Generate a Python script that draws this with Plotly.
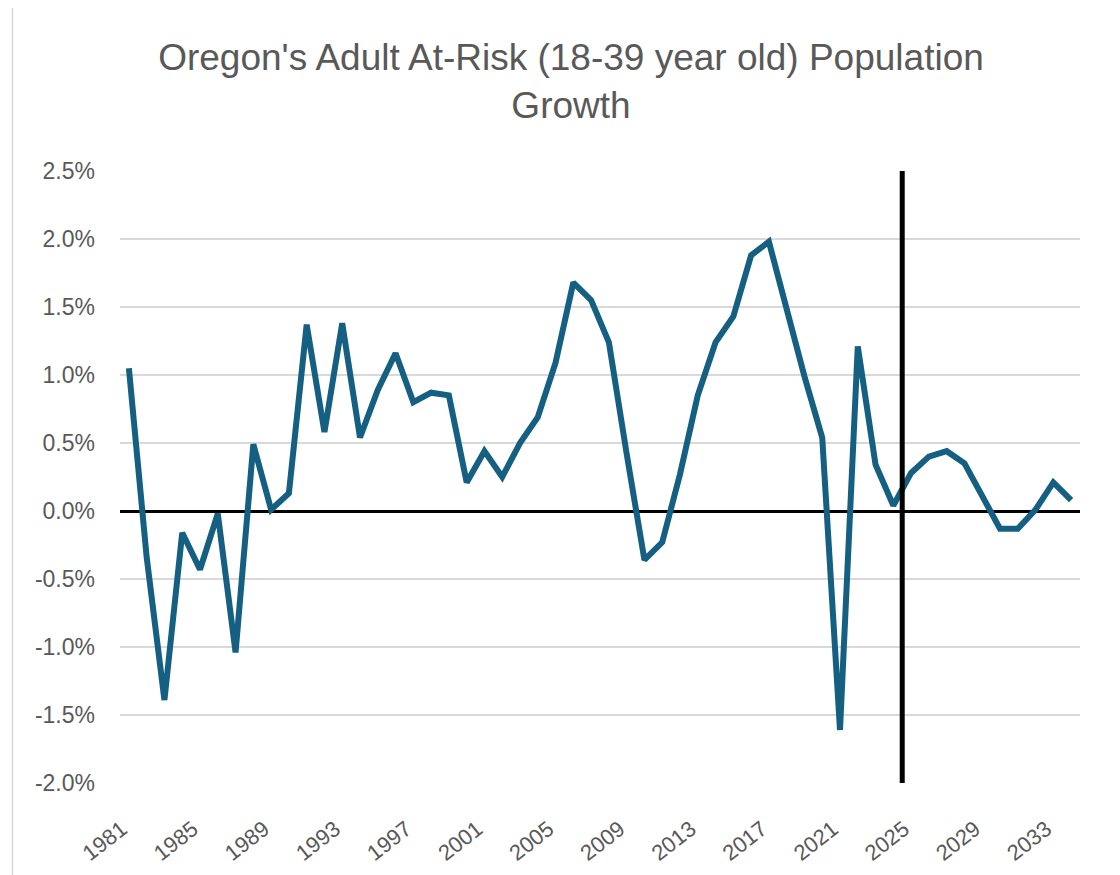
import plotly.graph_objects as go

years = list(range(1981, 2035))
growth_pct = [
    1.05, -0.34, -1.39, -0.16, -0.43, -0.02, -1.04, 0.49, 0.01, 0.13,
    1.37, 0.58, 1.38, 0.54, 0.89, 1.16, 0.80, 0.87, 0.85, 0.21,
    0.44, 0.25, 0.50, 0.69, 1.09, 1.68, 1.55, 1.24, 0.42, -0.36,
    -0.23, 0.27, 0.85, 1.24, 1.43, 1.88, 1.98, 1.47, 0.99, 0.54,
    -1.61, 1.21, 0.34, 0.04, 0.28, 0.40, 0.44, 0.35, 0.12, -0.13,
    -0.13, 0.01, 0.21, 0.08,
]
growth = [v / 100 for v in growth_pct]
tick_years = list(range(1981, 2035, 4))
y_tick_vals = [-0.02, -0.015, -0.01, -0.005, 0.0, 0.005, 0.01, 0.015, 0.02, 0.025]
y_tick_text = ["-2.0%", "-1.5%", "-1.0%", "-0.5%", "0.0%", "0.5%", "1.0%", "1.5%", "2.0%", "2.5%"]
divider_year = 2024.5
title_text = "Oregon's Adult At-Risk (18-39 year old) Population<br>Growth"

grey = "#595959"
W, H = 1120, 875
OFF = 8  # page body margin
L, R, T, B = 120 - OFF, 1080 - OFF, 171 - OFF, 783 - OFF

def px_x(p):
    return (p - OFF - L) / (R - L)

def px_y(p):
    return (B - (p - OFF)) / (B - T)

fig = go.Figure()
fig.add_trace(go.Scatter(
    x=years, y=growth, mode="lines",
    line=dict(color="#156082", width=6),
    showlegend=False, hoverinfo="x+y",
))

fig.add_shape(type="line", xref="x", yref="paper",
              x0=divider_year, x1=divider_year, y0=0, y1=1,
              line=dict(color="black", width=5), layer="above")

# chart border
fig.add_shape(type="rect", xref="paper", yref="paper",
              x0=px_x(12.5), x1=px_x(1140), y0=px_y(890), y1=px_y(6.5),
              line=dict(color="#d9d9d9", width=1.5), layer="below")

fig.update_layout(
    width=W, height=H,
    margin=dict(l=L, r=W - R, t=T, b=H - B),
    paper_bgcolor="white", plot_bgcolor="white",
    font=dict(family="Liberation Sans, Arial", color=grey),
    title=dict(text=title_text, x=(571 - OFF) / W, xanchor="center",
               xref="container", yref="container",
               y=1 - 62 / H, yanchor="top",
               font=dict(size=37, color=grey, family="Liberation Sans, Arial")),
    xaxis=dict(range=[1980.5, 2034.5], tickvals=tick_years,
               ticktext=[str(y) for y in tick_years],
               tickangle=-38, showgrid=False, zeroline=False,
               showline=False, ticks="",
               ticklabelstandoff=28, ticklabelshift=-7,
               tickfont=dict(size=22, color=grey)),
    yaxis=dict(range=[-0.02, 0.025], tickvals=y_tick_vals, ticktext=y_tick_text,
               showgrid=True, gridcolor="#d9d9d9",
               gridwidth=1.5, zeroline=True, zerolinecolor="black",
               zerolinewidth=2.5, showline=False, ticks="",
               ticklabelstandoff=24,
               tickfont=dict(size=23, color=grey)),
)

fig.write_html("out.html")
